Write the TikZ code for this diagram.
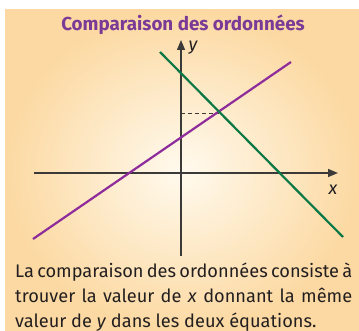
\documentclass[tikz,border=0pt]{standalone}
\usepackage{fontspec}
\setmainfont{Fira Sans}
\usetikzlibrary{arrows.meta}
\definecolor{titlepurple}{HTML}{7A3A96}
\definecolor{linepurple}{HTML}{8E2C9C}
\definecolor{linegreen}{HTML}{0B7845}
\definecolor{axisgray}{HTML}{3C3A38}
\definecolor{bgout}{HTML}{FCD9A2}
\definecolor{bgin}{HTML}{FFFAEE}
\definecolor{txt}{HTML}{231F20}
\begin{document}
\begin{tikzpicture}[x=1pt,y=-1pt,
  axis/.style={draw=axisgray,line width=1.3pt},
  arrowtip/.style={-{Triangle[length=10pt,width=8pt]}},
  graphline/.style={line width=2.2pt},
  bodyline/.style={anchor=base west,inner sep=0pt,text=txt,font=\fontsize{18.2}{22}\selectfont},
  axlabel/.style={inner sep=0pt,text=txt,font=\fontsize{18}{20}\selectfont\itshape}]
\useasboundingbox (0,0) rectangle (359,331);
\shade[inner color=bgin,outer color=bgout] (5,10) rectangle (359,331);
\node[font=\fontsize{18.8}{22}\selectfont\bfseries,text=titlepurple,inner sep=0pt] (title) at (183,25) {Comparaison des ordonnées};
% axes
\coordinate (xs) at (34,173);
\coordinate (xe) at (338,173);
\coordinate (ys) at (181,256);
\coordinate (ye) at (181,40);
\draw[axis,arrowtip] (xs) -- (xe);
\draw[axis,arrowtip] (ys) -- (ye);
\node[axlabel] (xl) at (333,190) {x};
\node[axlabel] (yl) at (193,48) {y};
% lines
\coordinate (g1) at (160,52);
\coordinate (g2) at (343,237);
\coordinate (p1) at (33,239);
\coordinate (p2) at (291,62);
\coordinate (yi) at (181,113);
\coordinate (inter) at (218.5,113);
\draw[axisgray,line width=0.9pt,dash pattern=on 4pt off 3pt] (yi) -- (inter);
\draw[graphline,linepurple] (p1) -- (p2);
\draw[graphline,linegreen] (g1) -- (g2);
% text
\node[bodyline] (l1) at (15,278) {\makebox[337pt][s]{La comparaison des ordonnées consiste à}};
\node[bodyline] (l2) at (15,303) {\makebox[337pt][s]{trouver la valeur de \textit{x} donnant la même}};
\node[bodyline] (l3) at (15,327) {valeur de \textit{y} dans les deux équations.};
\end{tikzpicture}
\end{document}
